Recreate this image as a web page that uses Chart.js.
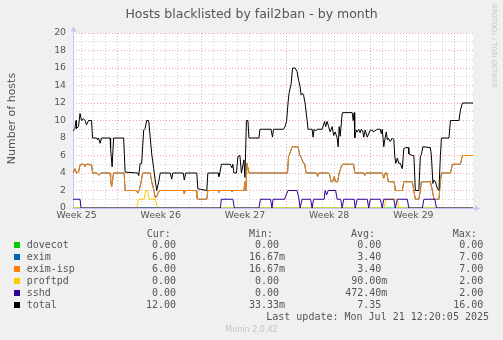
<!DOCTYPE html>
<html>
<head>
<meta charset="utf-8">
<script src="https://cdn.jsdelivr.net/npm/chart.js@4/dist/chart.umd.min.js"></script>
<style>
html,body{margin:0;padding:0;background:#f0f0f0;}
#wrap{width:503px;height:340px;position:relative;}
canvas{display:block;}
</style>
</head>
<body>
<div id="wrap"><canvas id="c" width="503" height="340"></canvas></div>
<script>
// ---- Data: [hours since start of graph, value] ----
const dovecotData = [[0,0],[798,0]];

const eximIspData = [
[0,4.0],[4,4.5],[7,4.0],[11,4.1],[14,4.9],[17,5.0],[22,5.0],[24,4.7],[26,5.0],[31,5.0],[34,4.9],[37,5.0],
[39,4.0],[48,4.0],[50,3.8],[53,3.8],[55,4.0],[74,4.0],[75,3.3],[77,2.4],[79,3.2],[81,4.0],[102,4.0],
[104,2.0],[127,2.0],[129,1.7],[132,2.0],[136,3.0],[139,4.0],[154,4.0],[157,3.0],[162,1.9],[164,1.2],
[167,1.3],[171,1.9],[174,2.0],[221,2.0],[222,1.6],[224,2.0],[246,2.0],[247,1.2],[249,1.0],[267,1.0],
[269,2.0],[290,2.0],[291,1.8],[292,2.0],[316,2.0],[317,1.9],[319,2.0],[341,2.0],[343,3.0],[345,2.0],
[347,5.1],[351,4.0],[428,4.0],[430,5.9],[432,6.1],[437,7.0],[449,7.0],[452,6.1],[454,5.9],[460,5.1],
[462,5.1],[465,4.0],[486,4.0],[488,3.6],[490,4.0],[510,4.0],[512,3.8],[515,3.0],[518,3.0],[521,3.6],
[524,3.0],[528,3.0],[531,4.0],[535,4.7],[538,5.0],[560,5.0],[562,4.0],[580,4.0],[582,3.7],[584,4.0],
[617,4.0],[620,3.4],[623,4.0],[626,4.0],[629,3.0],[640,3.0],[642,2.6],[643,2.0],[657,2.0],[660,3.0],
[677,3.0],[680,2.0],[683,1.0],[690,1.0],[693,2.0],[695,3.0],[713,3.0],[717,2.0],[720,1.0],[730,1.0],
[733,3.0],[735,4.0],[753,4.0],[757,5.0],[773,5.0],[777,6.0],[798,6.0]
];
// exim reads identical to exim-isp (hidden beneath it in the picture)
const eximData = eximIspData.map(p => [p[0], p[1]]);

const proftpdData = [
[0,0],[127,0],[131,1],[142,1],[145,2],[149,2],[152,1],[164,1],[169,0],
[621,0],[624,1],[647,1],[650,0],[798,0]
];

const sshdData = [
[0,1],[14,1],[16,0],[294,0],[296,1],[319,1],[322,0],[371,0],[374,1],[394,1],[397,0],[399,1],
[422,1],[426,1.6],[429,2],[447,2],[451,1],[453,0],[457,1],[474,1],[477,0],[480,1],[501,1],[503,2],
[506,1.5],[509,2],[524,2],[527,1],[534,1],[537,0],[540,1],[561,1],[563,0],[567,1],[587,1],[590,0],
[593,1],[613,1],[617,0],[620,1],[640,1],[643,0],[647,1],[667,1],[670,0],[697,0],[700,1],[722,1],
[725,0],[798,0]
];

const totalData = [
[0,8.8],[4,9.1],[6,10.0],[7,9.1],[11,9.3],[14,10.8],[17,10.0],[21,10.2],[24,10.0],[27,9.5],[31,10.0],
[37,10.0],[39,8.0],[47,8.0],[49,7.8],[51,8.0],[54,7.4],[57,8.0],[74,8.0],[75,6.8],[78,4.7],[81,8.0],
[101,8.0],[104,4.1],[129,4.0],[131,3.7],[134,5.1],[137,5.1],[141,8.9],[144,9.1],[147,10.0],[151,10.0],
[154,8.1],[157,6.2],[161,4.5],[164,3.2],[167,2.0],[171,3.0],[174,4.0],[194,4.0],[197,3.3],[199,4.0],
[220,4.0],[222,3.2],[225,4.0],[247,4.0],[249,2.2],[267,2.0],[269,4.0],[290,4.0],[291,3.6],[293,4.0],
[296,5.0],[314,5.0],[317,4.6],[319,5.0],[321,4.0],[326,4.0],[329,5.9],[333,6.0],[336,4.0],[341,5.5],
[343,3.5],[346,10.0],[349,10.0],[351,8.0],[371,8.0],[373,9.0],[395,9.0],[398,8.1],[400,9.0],[420,9.0],
[423,9.3],[426,9.9],[429,12.0],[431,13.1],[435,14.1],[438,16.0],[443,16.0],[447,15.6],[450,14.6],
[453,13.9],[455,12.9],[458,13.1],[460,12.9],[463,12.0],[467,10.0],[469,9.0],[477,9.0],[479,8.1],
[481,9.0],[484,8.8],[487,9.0],[497,9.0],[502,9.9],[504,9.3],[507,9.9],[510,9.3],[513,8.7],[517,9.3],
[520,8.3],[523,8.7],[527,8.0],[529,7.0],[531,9.3],[533,8.2],[537,10.8],[538,10.9],[557,10.9],[559,10.0],
[561,10.9],[562,8.0],[565,8.9],[567,8.7],[570,9.0],[573,8.6],[575,9.0],[578,8.8],[580,8.1],[583,8.9],
[587,8.1],[593,8.9],[597,8.9],[599,8.7],[607,9.0],[613,9.0],[615,8.5],[617,9.0],[620,7.0],[622,7.8],
[625,8.7],[627,7.8],[629,8.0],[633,7.6],[637,8.0],[640,7.8],[642,5.9],[644,5.1],[647,5.7],[650,5.1],
[653,5.1],[657,4.5],[660,6.8],[664,6.9],[669,6.9],[670,6.2],[677,6.0],[680,6.0],[683,2.0],[690,2.0],
[693,5.9],[695,6.1],[698,7.0],[713,6.9],[715,6.0],[718,2.8],[720,3.2],[723,3.0],[727,2.2],[730,2.0],
[733,6.0],[735,8.0],[750,8.0],[753,10.0],[770,10.0],[773,11.2],[777,12.0],[798,12.0]
];

// ---- Axis / labels ----
const xMaxHours = 798;
const weekStartHours = [89, 257, 425, 593, 761];
const weekLabelHours = [7, 175, 343, 511, 679];
const weekLabels = ['Week 25', 'Week 26', 'Week 27', 'Week 28', 'Week 29'];
const dayLineHours = [];
for (let h = 17; h <= xMaxHours; h += 24) dayLineHours.push(h);

// ---- Legend ----
const legendNames  = ['dovecot', 'exim', 'exim-isp', 'proftpd', 'sshd', 'total'];
const legendColors = ['#00CC00', '#0066B3', '#FF8000', '#FFCC00', '#330099', '#000000'];
const curText = ['0.00 ', '6.00 ', '6.00 ', '0.00 ', '0.00 ', '12.00 '];
const minText = ['0.00 ', '16.67m', '16.67m', '0.00 ', '0.00 ', '33.33m'];
const avgText = ['0.00 ', '3.40 ', '3.40 ', '90.00m', '472.40m', '7.35 '];
const maxText = ['0.00 ', '7.00 ', '7.00 ', '2.00 ', '2.00 ', '16.00 '];
const titleText = 'Hosts blacklisted by fail2ban - by month';
const yTitleText = 'Number of hosts';
const lastUpdateText = 'Last update: Mon Jul 21 12:20:05 2025';
const versionText = 'Munin 2.0.42';
const sideText = 'RRDTOOL / TOBI OETIKER';

const FONT = '"DejaVu Sans", sans-serif';
const MONO = '"DejaVu Sans Mono", monospace';
const TXT = '#555555';
const AXIS = '#c6c6f6';
const GRID_MAJOR = 'rgba(236,120,120,0.65)';
const GRID_MINOR = 'rgba(175,175,175,0.6)';

const toXY = arr => arr.map(p => ({x: p[0], y: p[1]}));

const decor = {
  id: 'rrdDecor',
  beforeDraw(chart) {
    const {ctx, chartArea: a} = chart;
    ctx.save();
    ctx.fillStyle = '#f0f0f0';
    ctx.fillRect(0, 0, chart.width, chart.height);
    ctx.fillStyle = '#ffffff';
    ctx.fillRect(a.left, a.top, a.right - a.left, a.bottom - a.top);
    ctx.restore();
  },
  beforeDatasetsDraw(chart) {
    const {ctx, chartArea: a} = chart;
    ctx.save();
    ctx.strokeStyle = AXIS;
    ctx.fillStyle = AXIS;
    ctx.lineWidth = 1;
    ctx.beginPath();
    ctx.moveTo(a.left + 0.5, a.bottom + 1);
    ctx.lineTo(a.left + 0.5, a.top - 4);
    ctx.stroke();
    ctx.beginPath();
    ctx.moveTo(a.left - 0.5, a.bottom + 0.5);
    ctx.lineTo(a.right + 3, a.bottom + 0.5);
    ctx.stroke();
    // arrows
    ctx.beginPath();
    ctx.moveTo(a.left - 2.5, a.top - 1.5);
    ctx.lineTo(a.left + 3.5, a.top - 1.5);
    ctx.lineTo(a.left + 0.5, a.top - 6.5);
    ctx.closePath();
    ctx.fill();
    ctx.beginPath();
    ctx.moveTo(a.right + 2, a.bottom - 2.5);
    ctx.lineTo(a.right + 2, a.bottom + 3.5);
    ctx.lineTo(a.right + 7, a.bottom + 0.5);
    ctx.closePath();
    ctx.fill();
    ctx.restore();
  },
  afterDraw(chart) {
    const {ctx} = chart;
    ctx.save();
    // title
    ctx.fillStyle = TXT;
    ctx.font = '12.5px ' + FONT;
    ctx.textAlign = 'center';
    ctx.textBaseline = 'alphabetic';
    ctx.fillText(titleText, 251.5, 18);
    // y title
    ctx.save();
    ctx.translate(15, 118.5);
    ctx.rotate(-Math.PI / 2);
    ctx.font = '11px ' + FONT;
    ctx.textAlign = 'center';
    ctx.textBaseline = 'alphabetic';
    ctx.fillText(yTitleText, 0, 0);
    ctx.restore();
    // side watermark
    ctx.save();
    ctx.translate(492, 4);
    ctx.rotate(Math.PI / 2);
    ctx.font = '6.5px ' + FONT;
    ctx.fillStyle = '#c4c4c4';
    ctx.textAlign = 'left';
    ctx.textBaseline = 'alphabetic';
    ctx.fillText(sideText, 0, 0);
    ctx.restore();
    // legend
    ctx.font = '10px ' + MONO;
    ctx.fillStyle = TXT;
    ctx.textAlign = 'left';
    ctx.textBaseline = 'alphabetic';
    const hy = 236.5;
    ctx.fillText('Cur:', 146.7, hy);
    ctx.fillText('Min:', 249, hy);
    ctx.fillText('Avg:', 351, hy);
    ctx.fillText('Max:', 452.7, hy);
    const colEnds = [182, 285, 387.3, 489.3];
    const cols = [curText, minText, avgText, maxText];
    for (let i = 0; i < legendNames.length; i++) {
      const y = 248.3 + 12 * i;
      ctx.fillStyle = legendColors[i];
      ctx.fillRect(14, y - 6.3, 6, 6);
      ctx.fillStyle = TXT;
      ctx.fillText(legendNames[i], 26.7, y);
      for (let c = 0; c < 4; c++) {
        const s = cols[c][i];
        const w = ctx.measureText(s).width;
        ctx.fillText(s, colEnds[c] - w, y);
      }
    }
    const lw = ctx.measureText(lastUpdateText).width;
    ctx.fillText(lastUpdateText, 489 - lw, 320.3);
    // version
    ctx.font = '8px ' + FONT;
    ctx.fillStyle = '#c4c4c4';
    ctx.textAlign = 'center';
    ctx.fillText(versionText, 251.5, 332);
    ctx.restore();
  }
};

const lineDs = (label, data, color) => ({
  label, data: toXY(data), borderColor: color, backgroundColor: color,
  borderWidth: 1, pointRadius: 0, pointHoverRadius: 0, fill: false, tension: 0
});

new Chart(document.getElementById('c'), {
  type: 'line',
  data: {
    datasets: [
      lineDs('total', totalData, '#000000'),
      lineDs('sshd', sshdData, '#330099'),
      lineDs('proftpd', proftpdData, '#FFCC00'),
      lineDs('exim-isp', eximIspData, '#FF8000'),
      lineDs('exim', eximData, '#0066B3'),
      lineDs('dovecot', dovecotData, '#00CC00')
    ]
  },
  options: {
    responsive: false,
    devicePixelRatio: 1,
    animation: false,
    events: [],
    layout: {padding: {left: 0, top: 33, right: 30, bottom: 112}},
    plugins: {legend: {display: false}, tooltip: {enabled: false}, title: {display: false}},
    scales: {
      x: {
        type: 'linear', min: 0, max: xMaxHours,
        afterFit(s) { s.height = 20; },
        afterBuildTicks(s) {
          const vals = dayLineHours.concat(weekLabelHours).sort((a, b) => a - b);
          s.ticks = vals.map(v => ({value: v}));
        },
        border: {display: false, dash: [1, 2]},
        grid: {
          drawTicks: false,
          lineWidth: 1,
          color(ctx) {
            const v = ctx.tick ? ctx.tick.value : null;
            if (weekLabelHours.includes(v)) return 'rgba(0,0,0,0)';
            if (weekStartHours.includes(v)) return GRID_MAJOR;
            return GRID_MINOR;
          }
        },
        ticks: {
          autoSkip: false, maxRotation: 0, minRotation: 0, padding: 2,
          color: TXT, font: {family: FONT, size: 9.3},
          callback(v) {
            const i = weekLabelHours.indexOf(v);
            return i >= 0 ? weekLabels[i] : '';
          }
        }
      },
      y: {
        type: 'linear', min: 0, max: 20,
        afterFit(s) { s.width = 73; },
        border: {display: false, dash: [1, 2]},
        grid: {
          drawTicks: false,
          lineWidth: 1,
          color(ctx) {
            const v = ctx.tick ? ctx.tick.value : null;
            if (v === 0) return 'rgba(0,0,0,0)';
            return v % 2 === 0 ? GRID_MAJOR : GRID_MINOR;
          }
        },
        ticks: {
          stepSize: 1, autoSkip: false, padding: 7,
          color: TXT, font: {family: FONT, size: 9.3},
          callback(v) { return v % 2 === 0 ? String(v) : ''; }
        }
      }
    }
  },
  plugins: [decor]
});
</script>
</body>
</html>
